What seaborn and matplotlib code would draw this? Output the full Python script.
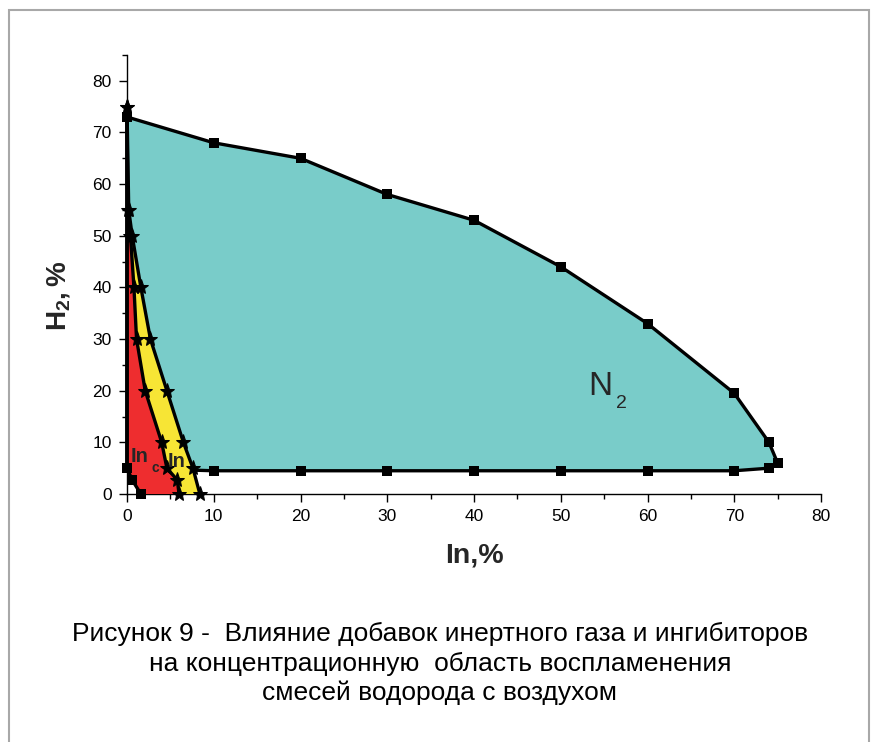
import matplotlib
matplotlib.use("Agg")
import matplotlib.pyplot as plt
import seaborn as sns
import pandas as pd
from matplotlib.patches import Rectangle
from matplotlib.ticker import MultipleLocator

# ---- data ----
n2_upper_x = [0, 10, 20, 30, 40, 50, 60, 70, 74, 75]
n2_upper_y = [73, 68, 65, 58, 53, 44, 33, 19.5, 10, 6]
n2_lower_x = [74, 70, 60, 50, 40, 30, 20, 10, 0]
n2_lower_y = [5, 4.5, 4.5, 4.5, 4.5, 4.5, 4.5, 4.5, 5]
n2_small_x = [0, 0.6, 1.6]
n2_small_y = [5, 2.7, 0]
inc_x = [0, 0.1, 0.4, 0.8, 1.1, 2.1, 4.0, 4.6, 5.8, 6.0]
inc_y = [75, 55, 50, 40, 30, 20, 10, 5, 2.7, 0]
in_x = [0, 0.2, 0.6, 1.6, 2.7, 4.6, 6.5, 7.6, 8.4]
in_y = [75, 55, 50, 40, 30, 20, 10, 5, 0]
x_ticks = [0, 10, 20, 30, 40, 50, 60, 70, 80]
y_ticks = [0, 10, 20, 30, 40, 50, 60, 70, 80]
caption = ["Рисунок 9 -  Влияние добавок инертного газа и ингибиторов",
           "на концентрационную  область воспламенения",
           "смесей водорода с воздухом"]

CYAN = "#79CCC9"
YELLOW = "#F7E535"
RED = "#EE2D2F"

sns.set_style("ticks")
plt.rcParams["font.family"] = ["Liberation Sans", "DejaVu Sans"]
plt.rcParams["mathtext.fontset"] = "custom"
plt.rcParams["mathtext.rm"] = "Liberation Sans"
plt.rcParams["mathtext.bf"] = "Liberation Sans:bold"

fig = plt.figure(figsize=(8.71, 7.42), dpi=100)
ax = fig.add_axes([127/871, 1-494/742, (821-127)/871, (494-55)/742])

# fills
cx = n2_upper_x + n2_lower_x
cy = n2_upper_y + n2_lower_y
ax.fill(cx, cy, color=CYAN, lw=0, zorder=1)

up_df = pd.DataFrame({"x": n2_upper_x + n2_lower_x, "y": n2_upper_y + n2_lower_y})
sns.lineplot(data=up_df, x="x", y="y", sort=False, estimator=None, color="black",
             lw=2.4, ax=ax, zorder=2)

yx = inc_x + in_x[::-1]
yy = inc_y + in_y[::-1]
ax.fill(yx, yy, color=YELLOW, lw=0, zorder=3)
rx = n2_small_x + inc_x[::-1]
ry = n2_small_y + inc_y[::-1]
ax.fill(rx, ry, color=RED, lw=0, zorder=3)

# left boundary
ax.plot([0, 0], [inc_y[0], n2_small_y[0]], color="black", lw=2.8, zorder=4,
        clip_on=False, solid_capstyle="butt")

for xs, ys in [(inc_x, inc_y), (in_x, in_y)]:
    df = pd.DataFrame({"x": xs, "y": ys})
    sns.lineplot(data=df, x="x", y="y", sort=False, estimator=None, color="black",
                 lw=2.4, ax=ax, zorder=4, marker="*", markersize=11,
                 markeredgecolor="black", clip_on=False)

sm_df = pd.DataFrame({"x": n2_small_x, "y": n2_small_y})
sns.lineplot(data=sm_df, x="x", y="y", sort=False, estimator=None, color="black",
             lw=2.4, ax=ax, zorder=4, clip_on=False)

sq_df = pd.DataFrame({"x": n2_upper_x + n2_lower_x + n2_small_x[1:],
                      "y": n2_upper_y + n2_lower_y + n2_small_y[1:]})
sns.scatterplot(data=sq_df, x="x", y="y", marker="s", s=60, color="black",
                edgecolor="black", linewidth=0, ax=ax, zorder=6, clip_on=False)

# labels inside plot
ax.text(53.2, 19.2, "N", fontsize=24, ha="left", va="baseline", zorder=7)
ax.text(56.4, 16.7, "2", fontsize=14, ha="left", va="baseline", zorder=7)
ax.text(0.45, 6.2, "In", fontsize=14.5, fontweight="bold", ha="left", va="baseline", zorder=7)
ax.text(2.8, 4.3, "c", fontsize=10, fontweight="bold", ha="left", va="baseline", zorder=7)
ax.text(4.7, 5.2, "In", fontsize=14.5, fontweight="bold", ha="left", va="baseline", zorder=7)

# axes styling
ax.set_xlim(0, 80)
ax.set_ylim(0, 85)
ax.set_xticks(x_ticks)
ax.set_yticks(y_ticks)
ax.xaxis.set_minor_locator(MultipleLocator(5))
ax.yaxis.set_minor_locator(MultipleLocator(5))
ax.tick_params(which="major", length=6, width=1, labelsize=12.5, color="black",
               labelcolor="black", direction="out", pad=5)
ax.tick_params(which="minor", length=3.5, width=1, color="black", direction="out")
for s in ["top", "right"]:
    ax.spines[s].set_visible(False)
for s in ["left", "bottom"]:
    ax.spines[s].set_linewidth(1)
    ax.spines[s].set_color("black")
ax.set_facecolor("white")

ax.set_xlabel("In,%", fontsize=20.5, fontweight="bold")
ax.xaxis.set_label_coords(0.5, -0.110)
ax.set_ylabel(r"$\mathbf{H_2,\%}$", fontsize=20)
ax.yaxis.set_label_coords(-0.079, 0.451)

# caption
for i, line in enumerate(caption):
    fig.text(440/871, 1 - (634 + i*29.5)/742, line, fontsize=19, ha="center",
             va="center", color="black")

# outer frame
fig.patches.append(Rectangle((9/871, -0.05), (869-9)/871, 1.05 - 10/742,
                             transform=fig.transFigure, fill=False,
                             edgecolor="#A8A8A8", lw=1.5))

fig.savefig("out.png", dpi=100)
